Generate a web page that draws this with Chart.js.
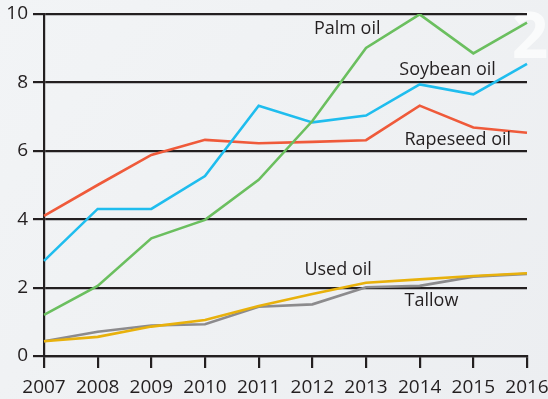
<!DOCTYPE html>
<html>
<head>
<meta charset="utf-8">
<script src="https://cdn.jsdelivr.net/npm/chart.js@4.4.1/dist/chart.umd.min.js"></script>
<style>
  html, body { margin: 0; padding: 0; background: #eff1f3; }
  #wrap { width: 548px; height: 399px; position: relative; }
</style>
</head>
<body>
<div id="wrap"><canvas id="oils"></canvas></div>
<script>
// ── DATA ──────────────────────────────────────────────────────────────────────
const years = ['2007', '2008', '2009', '2010', '2011', '2012', '2013', '2014', '2015', '2016'];
const yTicks = [0, 2, 4, 6, 8, 10];

const palmOil     = [1.20, 2.05, 3.44, 3.98, 5.15, 6.87, 9.01, 9.99, 8.85, 9.75];
const soybeanOil  = [2.78, 4.30, 4.30, 5.26, 7.32, 6.83, 7.03, 7.94, 7.65, 8.54];
const rapeseedOil = [4.10, 5.00, 5.88, 6.32, 6.22, 6.26, 6.31, 7.32, 6.68, 6.53];
const usedOil     = [0.43, 0.56, 0.86, 1.05, 1.46, 1.81, 2.14, 2.24, 2.34, 2.42];
const tallow      = [0.43, 0.71, 0.89, 0.93, 1.44, 1.51, 2.01, 2.05, 2.32, 2.40];

const INK = '#231f20';
const FONT = "'Open Sans', 'Noto Sans', sans-serif";

// series names sit next to their lines, anchored in data units (x = year index)
const seriesLabels = [
    { text: 'Palm oil',     x: 5.65, y: 9.56 },
    { text: 'Soybean oil',  x: 7.52, y: 8.36 },
    { text: 'Rapeseed oil', x: 7.71, y: 6.32 },
    { text: 'Used oil',     x: 5.48, y: 2.51 },
    { text: 'Tallow',       x: 7.22, y: 1.61 }
];

const backdrop = {
    id: 'backdrop',
    beforeDraw(chart) {
        const { ctx, width, height } = chart;
        ctx.save();
        const g = ctx.createLinearGradient(0, 0, width, height);
        g.addColorStop(0, '#f2f4f6');
        g.addColorStop(0.5, '#eff1f3');
        g.addColorStop(1, '#eceef1');
        ctx.fillStyle = g;
        ctx.fillRect(0, 0, width, height);
        // faint white "2" in the corner
        ctx.fillStyle = 'rgba(255,255,255,0.7)';
        ctx.font = `bold 64px ${FONT}`;
        ctx.textAlign = 'center';
        ctx.textBaseline = 'middle';
        ctx.fillText('2', 530, 40);
        ctx.restore();
    }
};

const lineNames = {
    id: 'lineNames',
    afterDatasetsDraw(chart) {
        const { ctx, scales: { x, y } } = chart;
        ctx.save();
        ctx.fillStyle = INK;
        ctx.font = `18px ${FONT}`;
        ctx.textAlign = 'center';
        ctx.textBaseline = 'middle';
        seriesLabels.forEach(l => ctx.fillText(l.text, x.getPixelForValue(l.x), y.getPixelForValue(l.y)));
        ctx.restore();
    }
};

const line = (label, data, color) => ({
    label, data, borderColor: color, backgroundColor: color,
    borderWidth: 2.6, pointRadius: 0, tension: 0, fill: false
});

new Chart(document.getElementById('oils'), {
    type: 'line',
    data: {
        labels: years,
        datasets: [
            line('Used oil', usedOil, '#e8b10c'),
            line('Tallow', tallow, '#8c8b8d'),
            line('Palm oil', palmOil, '#6bbf5f'),
            line('Soybean oil', soybeanOil, '#1fbdee'),
            line('Rapeseed oil', rapeseedOil, '#ef5a3a')
        ]
    },
    options: {
        responsive: true, maintainAspectRatio: false, animation: false,
        layout: { padding: { top: 14, right: 21, left: 0, bottom: 0 } },
        plugins: { legend: { display: false }, tooltip: { enabled: false } },
        scales: {
            x: {
                type: 'category', offset: false,
                afterFit: s => { s.height = 43; s.paddingLeft = 0; s.paddingRight = 0; },
                ticks: { color: INK, font: { family: FONT, size: 19 }, padding: 8, maxRotation: 0, autoSkip: false },
                grid: { drawOnChartArea: false, color: INK, lineWidth: 2.2, tickLength: 12, tickWidth: 2.2, offset: false },
                border: { color: INK, width: 2.2 }
            },
            y: {
                min: 0, max: 10,
                afterBuildTicks: s => { s.ticks = yTicks.map(v => ({ value: v })); },
                afterFit: s => { s.width = 44; s.paddingTop = 0; s.paddingBottom = 0; },
                ticks: { color: INK, font: { family: FONT, size: 19 }, padding: 5 },
                grid: { color: INK, lineWidth: 2.2, tickLength: 11 },
                border: { color: INK, width: 2.2 }
            }
        }
    },
    plugins: [backdrop, lineNames]
});
</script>
</body>
</html>
